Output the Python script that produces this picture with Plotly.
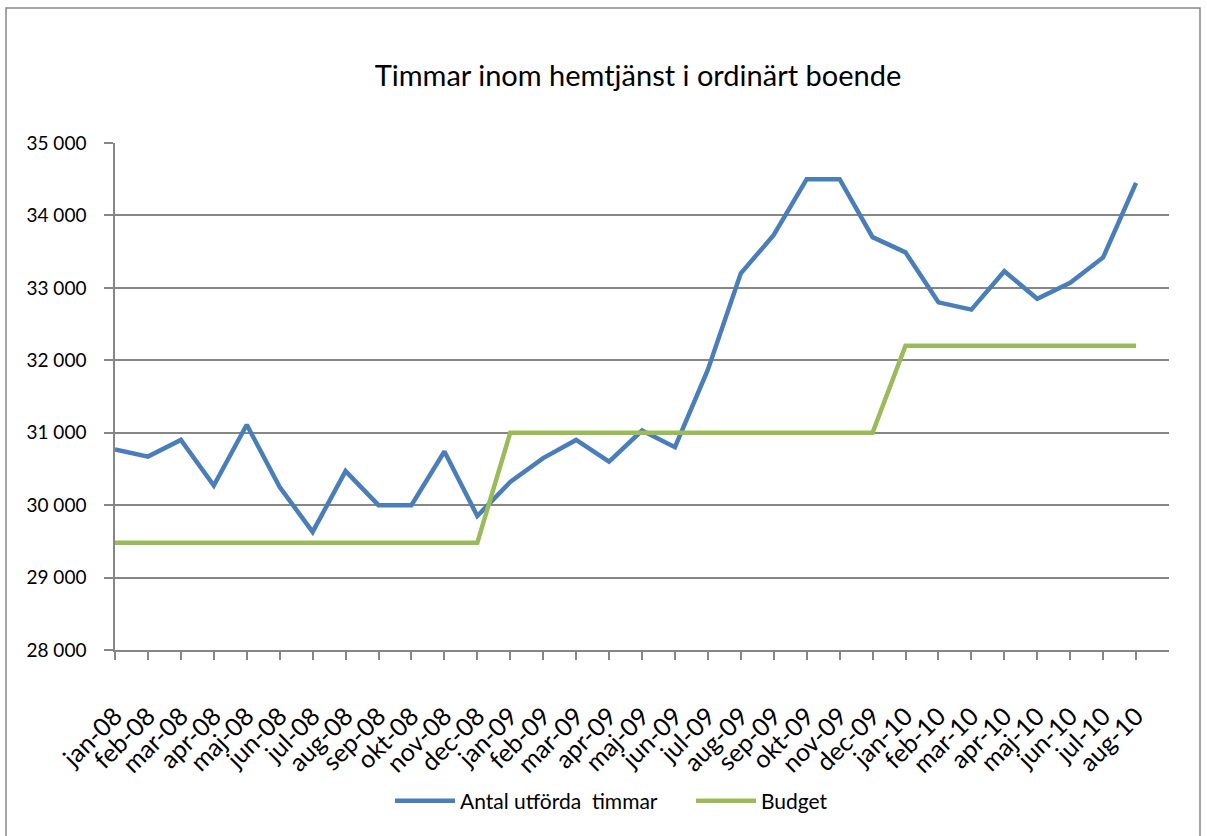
import plotly.graph_objects as go

months = ["jan-08","feb-08","mar-08","apr-08","maj-08","jun-08","jul-08","aug-08","sep-08","okt-08","nov-08","dec-08",
          "jan-09","feb-09","mar-09","apr-09","maj-09","jun-09","jul-09","aug-09","sep-09","okt-09","nov-09","dec-09",
          "jan-10","feb-10","mar-10","apr-10","maj-10","jun-10","jul-10","aug-10"]

utforda = [30770, 30670, 30900, 30270, 31110, 30250, 29630, 30470, 30000, 30000, 30740, 29850,
           30320, 30650, 30900, 30600, 31030, 30800, 31870, 33200, 33730, 34500, 34500, 33700,
           33490, 32800, 32700, 33230, 32850, 33070, 33420, 34450]

budget = [29480]*12 + [31000]*12 + [32200]*8

y_ticks = [28000, 29000, 30000, 31000, 32000, 33000, 34000, 35000]

FONT = "Lato, Carlito, Calibri, sans-serif"
x_idx = list(range(len(months)))

fig = go.Figure()
fig.add_trace(go.Scatter(x=x_idx, y=utforda, mode="lines", name="Antal utförda  timmar",
                         line=dict(color="#4a7ebb", width=4.5)))
fig.add_trace(go.Scatter(x=x_idx, y=budget, mode="lines", name="Budget",
                         line=dict(color="#9bbb59", width=4.5)))

L, R, T, B = 115, 38, 143, 186
W, H = 1207, 836
pw, ph = W - L - R, H - T - B

fig.update_layout(
    width=W, height=H,
    margin=dict(l=L, r=R, t=T, b=B, autoexpand=False),
    paper_bgcolor="white", plot_bgcolor="white",
    separators=", ",
    font=dict(family=FONT, color="black", size=18),
    title=dict(text="Timmar inom hemtjänst i ordinärt boende", x=(638 - L) / pw, xref="paper", xanchor="center",
               y=1 - 76 / H, yanchor="middle", font=dict(size=29, family=FONT)),
    showlegend=True,
    legend=dict(orientation="h", x=(390 - L) / pw, xanchor="left", yref="container", y=1 - 801 / H, yanchor="middle",
                font=dict(size=21), itemwidth=60, entrywidth=226, entrywidthmode="pixels",
                tracegroupgap=0, bgcolor="rgba(0,0,0,0)"),
    xaxis=dict(range=[0, 32], tickmode="array", tickvals=x_idx, ticktext=months, tickangle=-45,
               showgrid=False, zeroline=False, showline=True, linecolor="#868686", linewidth=1.5,
               ticks="outside", ticklen=8, tickcolor="#868686", tickwidth=1.5,
               ticklabelstandoff=32, tickfont=dict(size=25, family=FONT)),
    yaxis=dict(range=[28000, 35000], tickmode="array", tickvals=y_ticks, tickformat=",d",
               showgrid=True, gridcolor="#868686", gridwidth=1.5, zeroline=False,
               showline=True, linecolor="#868686", linewidth=1.5,
               ticks="outside", ticklen=9, tickcolor="#868686", tickwidth=1.5,
               ticklabelstandoff=14, tickfont=dict(size=19, family=FONT)),
)

# outer chart border
fig.add_shape(type="rect", xref="paper", yref="paper",
              x0=(6 - L) / pw, x1=(1200 - L) / pw,
              y0=(T + ph - 845) / ph, y1=(T + ph - 8) / ph,
              line=dict(color="#868686", width=1.5), fillcolor="rgba(0,0,0,0)", layer="below")

fig.write_html("out.html", config={"displayModeBar": False},
               post_script="document.body.style.margin='0';")
